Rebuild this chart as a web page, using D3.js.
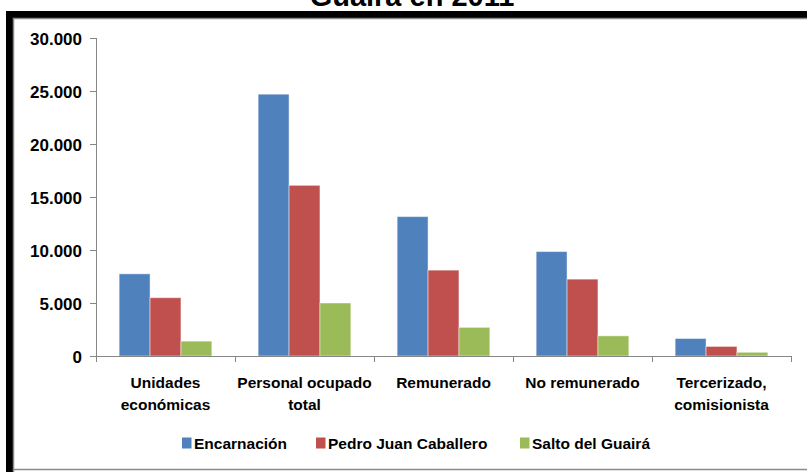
<!DOCTYPE html>
<html>
<head>
<meta charset="utf-8">
<script src="https://cdn.jsdelivr.net/npm/d3@7/dist/d3.min.js"></script>
<style>
  html, body { margin: 0; padding: 0; background: #fff; }
  svg { display: block; }
  text { font-family: "Liberation Sans", Arial, sans-serif; font-weight: bold; fill: #000; }
</style>
</head>
<body>
<svg id="chart" width="807" height="472"></svg>
<script>
const titleText = "Guairá en 2011";
const categories = [
  ["Unidades", "económicas"],
  ["Personal ocupado", "total"],
  ["Remunerado"],
  ["No remunerado"],
  ["Tercerizado,", "comisionista"]
];
const seriesNames = ["Encarnación", "Pedro Juan Caballero", "Salto del Guairá"];
const seriesColors = ["#4F81BD", "#C0504D", "#9BBB59"];
const encarnacion = [7750, 24700, 13150, 9850, 1650];
const pedroJuan = [5500, 16100, 8100, 7250, 900];
const saltoGuaira = [1400, 5000, 2700, 1900, 350];
const yTicks = [0, 5000, 10000, 15000, 20000, 25000, 30000];

(function () {
const series = [encarnacion, pedroJuan, saltoGuaira];
const svg = d3.select("#chart");

// frame: black shadow band + gray border
svg.append("rect").attr("x", 6).attr("y", 11).attr("width", 801).attr("height", 7).attr("fill", "#000");
svg.append("rect").attr("x", 6).attr("y", 11).attr("width", 7).attr("height", 461).attr("fill", "#000");
svg.append("path").attr("d", "M13.5,472 V18.5 H807 M13.5,469.5 H807")
  .attr("fill", "none").attr("stroke", "#8a8a8a").attr("stroke-width", 1.5);

// title (cut off at top)
svg.append("text").attr("x", 412).attr("y", 6).attr("text-anchor", "middle")
  .style("font-size", "29px").text(titleText);

const pLeft = 96, pRight = 791, pTop = 38, pBottom = 356;
const x0 = d3.scaleBand().domain(d3.range(categories.length)).range([pLeft, pRight]).padding(0);
// Excel gap width 150%: bar width = band/(3+1.5)
const barW = x0.bandwidth() / 4.5;
const x1 = d3.scaleBand().domain(d3.range(series.length))
  .range([barW * 0.75, barW * 0.75 + barW * 3]).padding(0);
const y = d3.scaleLinear().domain([0, 30000]).range([pBottom, pTop]);

// bars
series.forEach((vals, si) => {
  svg.append("g").selectAll("rect").data(vals).join("rect")
    .attr("x", (d, i) => x0(i) + x1(si))
    .attr("y", d => y(d))
    .attr("width", x1.bandwidth())
    .attr("height", d => y(0) - y(d))
    .attr("fill", seriesColors[si])
    .attr("stroke", "rgba(255,255,255,0.45)")
    .attr("stroke-width", 1);
});

// y axis
const fmt = d => d === 0 ? "0" : d3.format(",")(d).replace(/,/g, ".");
const yAxis = svg.append("g").attr("transform", `translate(${pLeft},0)`)
  .call(d3.axisLeft(y).tickValues(yTicks).tickSize(6).tickPadding(8).tickFormat(fmt));
yAxis.select(".domain").attr("stroke", "#868686").attr("d", `M0.5,${pTop}V${pBottom + 6}`);
yAxis.selectAll(".tick line").attr("stroke", "#868686");
yAxis.selectAll(".tick text").style("font-size", "17px").style("font-family", '"Liberation Sans", Arial, sans-serif')
  .style("font-weight", "bold").attr("fill", "#000").attr("dy", "0.36em");

// x axis
const xg = svg.append("g");
xg.append("line").attr("x1", pLeft).attr("x2", pRight).attr("y1", pBottom + 0.5).attr("y2", pBottom + 0.5)
  .attr("stroke", "#868686");
const bounds = d3.range(categories.length + 1).map(i => i < categories.length ? x0(i) : pRight);
xg.selectAll("line.tk").data(bounds).join("line").attr("class", "tk")
  .attr("x1", d => d + 0.5).attr("x2", d => d + 0.5).attr("y1", pBottom).attr("y2", pBottom + 6)
  .attr("stroke", "#868686");

// category labels
categories.forEach((lines, i) => {
  const cx = x0(i) + x0.bandwidth() / 2;
  lines.forEach((ln, j) => {
    svg.append("text").attr("x", cx).attr("y", 388 + j * 22).attr("text-anchor", "middle")
      .style("font-size", "15.5px").text(ln);
  });
});

// legend
const legendX = [182, 316, 520];
seriesNames.forEach((nm, i) => {
  svg.append("rect").attr("x", legendX[i]).attr("y", 437.5).attr("width", 9.5).attr("height", 11)
    .attr("fill", seriesColors[i]);
  svg.append("text").attr("x", legendX[i] + 12).attr("y", 449).style("font-size", "15.5px").text(nm);
});
})();
</script>
</body>
</html>
